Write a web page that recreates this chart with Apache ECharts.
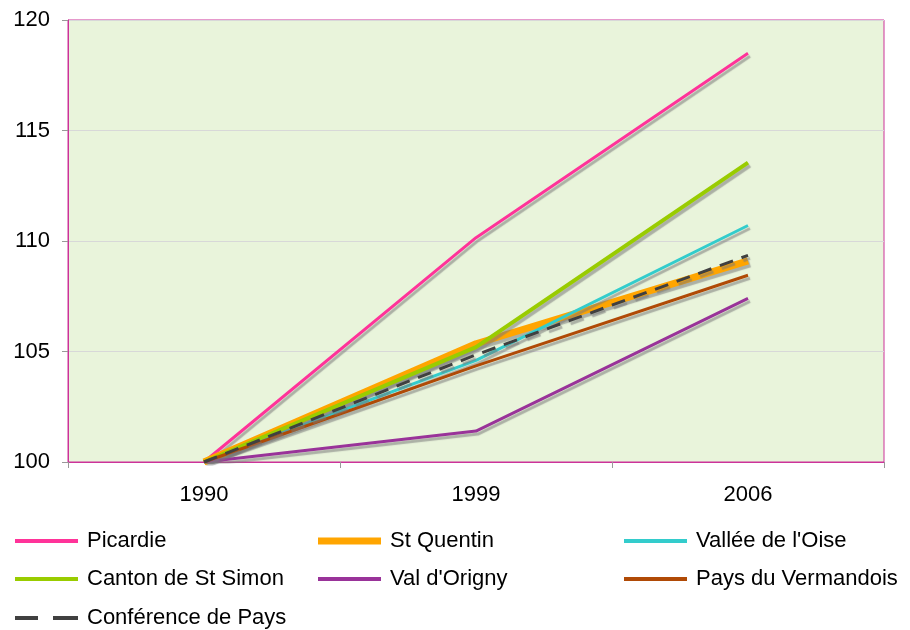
<!DOCTYPE html>
<html>
<head>
<meta charset="utf-8">
<script src="https://cdn.jsdelivr.net/npm/echarts@6/dist/echarts.min.js"></script>
<style>
  html, body { margin: 0; padding: 0; background: #fff; }
  #chart { width: 910px; height: 630px; }
</style>
</head>
<body>
<div id="chart"></div>
<script>
// years on the x axis
const years = ['1990', '1999', '2006'];

// index values (base 100 in 1990)
const picardie = [100, 110.15, 118.5];
const stQuentin = [100, 105.35, 109.1];
const valleeOise = [100, 104.6, 110.7];
const cantonStSimon = [100, 105.2, 113.55];
const valOrigny = [100, 101.4, 107.4];
const paysVermandois = [100, 104.35, 108.45];
const conferencePays = [100, 104.85, 109.35];

const font = 'Liberation Sans, Arial, sans-serif';
const shadow = {
  shadowColor: 'rgba(120,120,120,0.55)',
  shadowBlur: 1,
  shadowOffsetX: 2,
  shadowOffsetY: 3
};

const seriesDefs = [
  { name: 'Picardie', data: picardie, color: '#FF3399', width: 3, icon: 4 },
  { name: 'St Quentin', data: stQuentin, color: '#FFA500', width: 7, icon: 7 },
  { name: "Vallée de l'Oise", data: valleeOise, color: '#33CCCC', width: 3, icon: 4 },
  { name: 'Canton de St Simon', data: cantonStSimon, color: '#99CC00', width: 4, icon: 4 },
  { name: "Val d'Origny", data: valOrigny, color: '#993399', width: 3, icon: 4 },
  { name: 'Pays du Vermandois', data: paysVermandois, color: '#B04A06', width: 3, icon: 4 },
  { name: 'Conférence de Pays', data: conferencePays, color: '#404040', width: 3, icon: 4, dash: [14, 9] }
];

// legend slots: column x, row centre y
const legendPos = [
  [15, 541], [318, 541], [624, 541],
  [15, 579], [318, 579], [624, 579],
  [15, 618]
];

const chart = echarts.init(document.getElementById('chart'), null, { renderer: 'canvas' });

const option = {
  animation: false,
  backgroundColor: '#ffffff',
  grid: {
    left: 68, right: 26, top: 20, bottom: 168,
    show: true,
    backgroundColor: '#E9F4DB',
    borderColor: '#CC3399',
    borderWidth: 1
  },
  legend: seriesDefs.map((s, i) => ({
    data: [{ name: s.name, itemStyle: { color: s.color } }],
    left: legendPos[i][0],
    top: legendPos[i][1] - 12,
    itemWidth: 63,
    itemHeight: s.icon,
    itemGap: 0,
    padding: 0,
    icon: s.dash ? 'path://M0,0h23v4h-23z M38,0h25v4h-25z' : 'rect',
    textStyle: { fontFamily: font, fontSize: 22, color: '#000', padding: [0, 0, 0, 4], height: 24, lineHeight: 24 }
  })),
  xAxis: {
    type: 'category',
    data: years,
    boundaryGap: true,
    axisLine: { lineStyle: { color: '#CC3399', width: 1 } },
    axisTick: { show: true, length: 6, lineStyle: { color: '#999' } },
    axisLabel: { fontFamily: font, fontSize: 22, color: '#000', margin: 22 },
    splitLine: { show: false }
  },
  yAxis: {
    type: 'value',
    min: 100,
    max: 120,
    interval: 5,
    axisLine: { show: true, lineStyle: { color: '#CC3399', width: 1 } },
    axisTick: { show: true, length: 6, lineStyle: { color: '#999' } },
    axisLabel: { fontFamily: font, fontSize: 22, color: '#000', margin: 18 },
    splitLine: { show: true, lineStyle: { color: '#D8D8D8', width: 1 } }
  },
  series: seriesDefs.map(s => ({
    name: s.name,
    type: 'line',
    data: s.data,
    symbol: 'none',
    smooth: false,
    itemStyle: { color: s.color },
    lineStyle: Object.assign({
      color: s.color,
      width: s.width,
      type: s.dash ? s.dash : 'solid'
    }, shadow)
  }))
};

chart.setOption(option);
</script>
</body>
</html>
